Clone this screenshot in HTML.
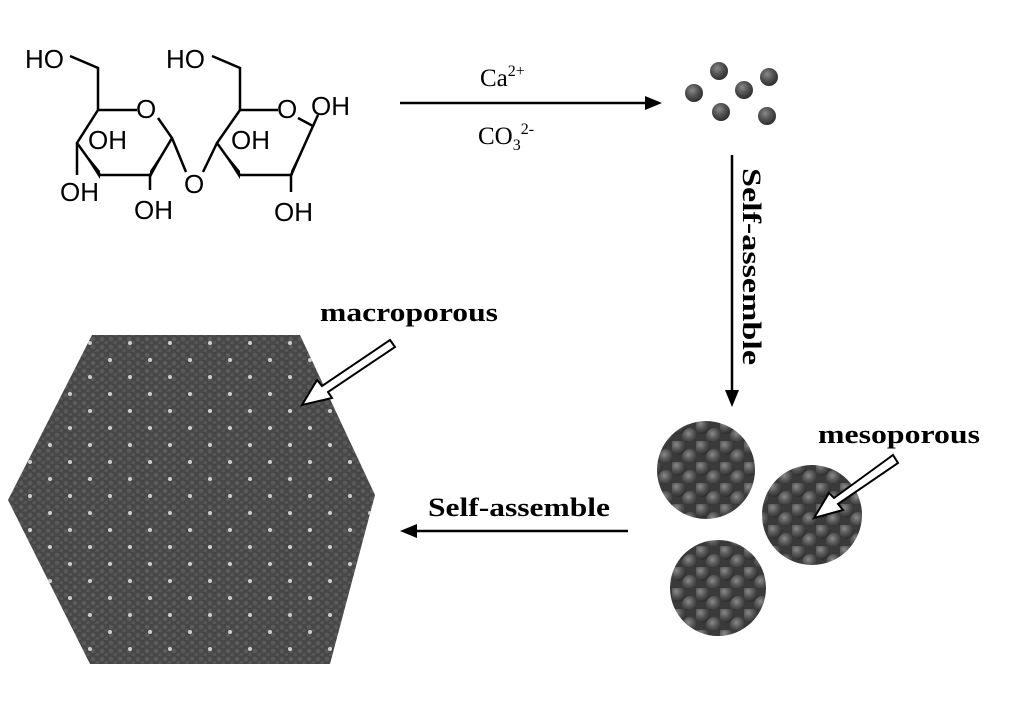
<!DOCTYPE html>
<html><head><style>
html,body{margin:0;padding:0;background:#fff;}
svg{display:block;}
</style></head><body>
<svg width="1015" height="708" viewBox="0 0 1015 708" xmlns="http://www.w3.org/2000/svg">
<defs>
<radialGradient id="ball" cx="0.4" cy="0.35" r="0.65">
<stop offset="0" stop-color="#8a8a8a"/><stop offset="0.5" stop-color="#555"/><stop offset="1" stop-color="#2e2e2e"/>
</radialGradient>
<pattern id="tex" width="9" height="8" patternUnits="userSpaceOnUse">
<rect width="9" height="8" fill="#474747"/>
<circle cx="3" cy="3" r="2.3" fill="#5a5a5a"/>
<circle cx="7.5" cy="7" r="2.3" fill="#555"/>
</pattern>
<pattern id="pores" width="40" height="34" patternUnits="userSpaceOnUse" x="20" y="10">
<circle cx="10" cy="10" r="2" fill="#f0f0f0"/>
<circle cx="30" cy="27" r="2" fill="#f0f0f0"/>
</pattern>
<pattern id="cl" width="24" height="21" patternUnits="userSpaceOnUse">
<rect width="24" height="21" fill="#3a3a3a"/>
<circle cx="6" cy="6" r="8" fill="url(#ball)"/>
<circle cx="18" cy="16" r="8" fill="url(#ball)"/>
</pattern>
</defs>

<!-- molecule -->
<g stroke="#000" stroke-width="2.5" fill="none">
<polyline points="70,56 98,68 98,110 137,110"/>
<polyline points="158,118 172,138 150,175 100,175 77,143 98,110"/>
<line x1="172" y1="138" x2="186" y2="172"/>
<polyline points="212,56 240,68 240,110 278,110"/>
<polyline points="298,118 313,126 291,175 240,175 217,143 240,110"/>
<line x1="217" y1="143" x2="203" y2="172"/>
<line x1="77" y1="143" x2="77" y2="175"/>
<line x1="150" y1="175" x2="150" y2="190"/>
<line x1="291" y1="175" x2="291" y2="192"/>
<line x1="313" y1="126" x2="318" y2="115"/>
</g>
<g fill="#000">
<polygon points="77,143 100,171 100,179"/>
<polygon points="150,171 150,179 172,138"/>
<polygon points="217,143 240,171 240,179"/>
<polygon points="291,171 291,179 313,126"/>
</g>
<g font-family="Liberation Sans, sans-serif" font-size="26" fill="#000">
<text x="25" y="68">HO</text>
<text x="136" y="118">O</text>
<text x="88" y="149">OH</text>
<text x="60" y="201">OH</text>
<text x="134" y="219">OH</text>
<text x="184" y="193">O</text>
<text x="166" y="68">HO</text>
<text x="277" y="118">O</text>
<text x="231" y="149">OH</text>
<text x="311" y="115">OH</text>
<text x="274" y="221">OH</text>
</g>

<!-- top arrow -->
<line x1="400" y1="103" x2="650" y2="103" stroke="#000" stroke-width="2.5"/>
<polygon points="662,103 645,96 645,110" fill="#000"/>
<text x="480" y="86" font-family="Liberation Serif, serif" font-size="25">Ca<tspan font-size="16" dy="-10">2+</tspan></text>
<text x="478" y="144" font-family="Liberation Serif, serif" font-size="25">CO<tspan font-size="16" dy="6">3</tspan><tspan font-size="16" dy="-16">2-</tspan></text>

<!-- dots -->
<g fill="url(#ball)">
<circle cx="694" cy="93" r="9"/><circle cx="719" cy="71" r="9"/><circle cx="744" cy="90" r="9"/>
<circle cx="769" cy="77" r="9"/><circle cx="721" cy="112" r="9"/><circle cx="767" cy="116" r="9"/>
</g>

<!-- vertical arrow -->
<line x1="732" y1="155" x2="732" y2="395" stroke="#000" stroke-width="2.5"/>
<polygon points="732,407 725,390 739,390" fill="#000"/>
<text transform="translate(743,168) rotate(90)" font-family="Liberation Serif, serif" font-weight="bold" font-size="26" textLength="197" lengthAdjust="spacingAndGlyphs">Self-assemble</text>

<!-- clusters -->
<circle cx="706" cy="470" r="49" fill="url(#cl)"/>
<circle cx="812" cy="515" r="50" fill="url(#cl)"/>
<circle cx="718" cy="588" r="48" fill="url(#cl)"/>
<text x="818" y="443" font-family="Liberation Serif, serif" font-weight="bold" font-size="26" textLength="162" lengthAdjust="spacingAndGlyphs">mesoporous</text>
<polygon points="893,455 898,463 838,504 843,510 814,518 829,493 834,498" fill="#fff" stroke="#000" stroke-width="2"/>

<!-- left arrow -->
<line x1="412" y1="531" x2="628" y2="531" stroke="#000" stroke-width="2.5"/>
<polygon points="400,531 417,524 417,538" fill="#000"/>
<text x="428" y="516" font-family="Liberation Serif, serif" font-weight="bold" font-size="26" textLength="182" lengthAdjust="spacingAndGlyphs">Self-assemble</text>

<!-- hexagon -->
<polygon points="92,335 300,335 375,495 330,664 90,664 8,500" fill="url(#tex)"/>
<polygon points="92,335 300,335 375,495 330,664 90,664 8,500" fill="url(#pores)" opacity="0.8"/>
<text x="320" y="321" font-family="Liberation Serif, serif" font-weight="bold" font-size="26" textLength="178" lengthAdjust="spacingAndGlyphs">macroporous</text>
<polygon points="390,340 395,347 328,392 332,398 302,405 317,380 322,386" fill="#fff" stroke="#000" stroke-width="2"/>
</svg>
</body></html>
